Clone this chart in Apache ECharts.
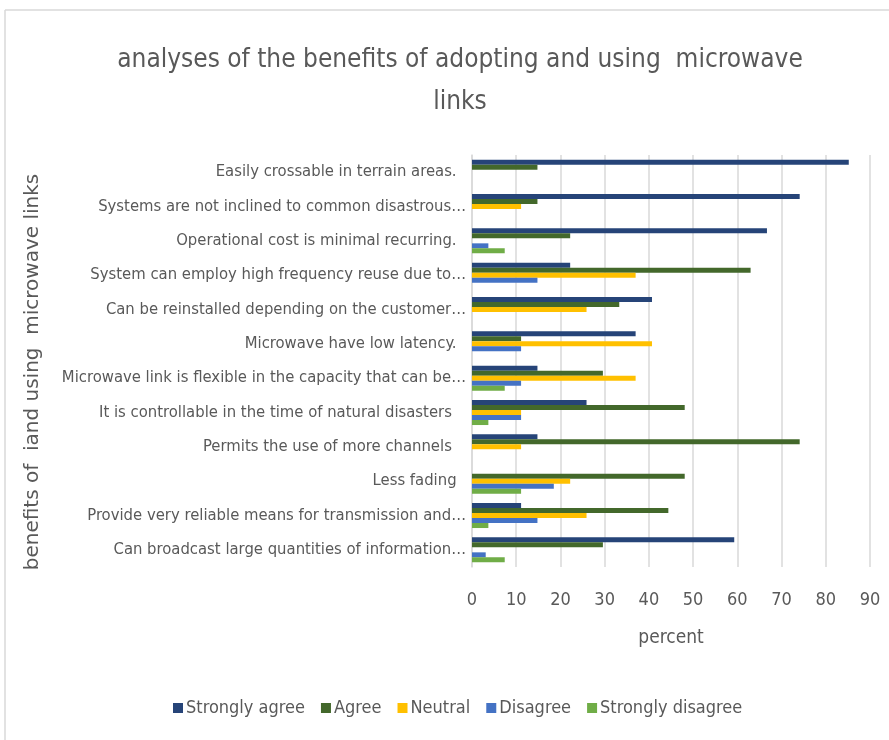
<!DOCTYPE html>
<html>
<head>
<meta charset="utf-8">
<script src="https://cdn.jsdelivr.net/npm/echarts@6/dist/echarts.min.js"></script>
<style>
  html, body { margin: 0; padding: 0; background: #fff; }
  #chart { width: 889px; height: 740px; }
</style>
</head>
<body>
<div id="chart"></div>
<script>
// Survey statements, listed top to bottom
const categories = [
  'Easily crossable in terrain areas.  ',
  'Systems are not inclined to common disastrous…',
  'Operational cost is minimal recurring.  ',
  'System can employ high frequency reuse due to…',
  'Can be reinstalled depending on the customer…',
  'Microwave have low latency.  ',
  'Microwave link is flexible in the capacity that can be…',
  'It is controllable in the time of natural disasters   ',
  'Permits the use of more channels   ',
  'Less fading  ',
  'Provide very reliable means for transmission and…',
  'Can broadcast large quantities of information…'
];

// Percent of respondents per answer (null = no responses)
const stronglyAgree    = [85.2, 74.1, 66.7, 22.2, 40.7, 37.0, 14.8, 25.9, 14.8, null, 11.1, 59.3];
const agree            = [14.8, 14.8, 22.2, 63.0, 33.3, 11.1, 29.6, 48.1, 74.1, 48.1, 44.4, 29.6];
const neutral          = [null, 11.1, null, 37.0, 25.9, 40.7, 37.0, 11.1, 11.1, 22.2, 25.9, null];
const disagree         = [null, null, 3.7, 14.8, null, 11.1, 11.1, 11.1, null, 18.5, 14.8, 3.1];
const stronglyDisagree = [null, null, 7.4, null, null, null, 7.4, 3.7, null, 11.1, 3.7, 7.4];

const xTicks = { min: 0, max: 90, interval: 10 };

const seriesDefs = [
  { name: 'Strongly agree',    data: stronglyAgree,    color: '#264478' },
  { name: 'Agree',             data: agree,            color: '#43682B' },
  { name: 'Neutral',           data: neutral,          color: '#FFC000' },
  { name: 'Disagree',          data: disagree,         color: '#4472C4' },
  { name: 'Strongly disagree', data: stronglyDisagree, color: '#70AD47' }
];

const textColor = '#595959';
const narrow = '"DejaVu Sans Condensed", "Liberation Sans", sans-serif';

const chart = echarts.init(document.getElementById('chart'), null, { renderer: 'canvas' });

chart.setOption({
  backgroundColor: '#ffffff',
  animation: false,
  title: {
    text: 'analyses of the benefits of adopting and using  microwave\nlinks',
    left: 455,
    top: 34,
    textAlign: 'center',
    textStyle: {
      color: textColor,
      fontFamily: narrow,
      fontWeight: 'normal',
      fontSize: 26,
      lineHeight: 42
    }
  },
  graphic: [
    // chart frame (top and left edges)
    { type: 'line', shape: { x1: 5, y1: 10, x2: 889, y2: 10 }, style: { stroke: '#d9d9d9', lineWidth: 1.5 } },
    { type: 'line', shape: { x1: 5, y1: 10, x2: 5, y2: 740 }, style: { stroke: '#d9d9d9', lineWidth: 1.5 } },
    // vertical axis title
    {
      type: 'text',
      x: 33,
      y: 372,
      rotation: Math.PI / 2,
      style: {
        text: 'benefits of  iand using  microwave links',
        fill: textColor,
        font: '20px "DejaVu Sans", sans-serif',
        textAlign: 'center',
        textVerticalAlign: 'middle'
      }
    }
  ],
  legend: {
    bottom: 18,
    left: 168,
    itemWidth: 10,
    itemHeight: 10,
    itemGap: 16,
    icon: 'rect',
    textStyle: { color: textColor, fontFamily: narrow, fontSize: 18, padding: [0, 0, 0, -2] },
    data: seriesDefs.map(s => s.name)
  },
  grid: { left: 472, right: 19, top: 155, bottom: 173, containLabel: false },
  xAxis: {
    type: 'value',
    min: xTicks.min,
    max: xTicks.max,
    interval: xTicks.interval,
    name: 'percent',
    nameLocation: 'middle',
    nameGap: 62,
    nameTextStyle: { color: textColor, fontFamily: narrow, fontSize: 19 },
    axisLine: { show: false },
    axisTick: { show: false },
    axisLabel: { color: textColor, fontFamily: narrow, fontSize: 18, margin: 24 },
    splitLine: { show: true, lineStyle: { color: '#d9d9d9', width: 1.5 } }
  },
  yAxis: {
    type: 'category',
    inverse: true,
    data: categories,
    axisLine: { show: true, lineStyle: { color: '#d9d9d9', width: 1.5 } },
    axisTick: { show: false },
    axisLabel: { color: textColor, fontFamily: narrow, fontSize: 16.5, margin: 6 }
  },
  series: seriesDefs.map(s => ({
    name: s.name,
    type: 'bar',
    data: s.data,
    barGap: '0%',
    barCategoryGap: '27%',
    itemStyle: { color: s.color }
  }))
});
</script>
</body>
</html>
